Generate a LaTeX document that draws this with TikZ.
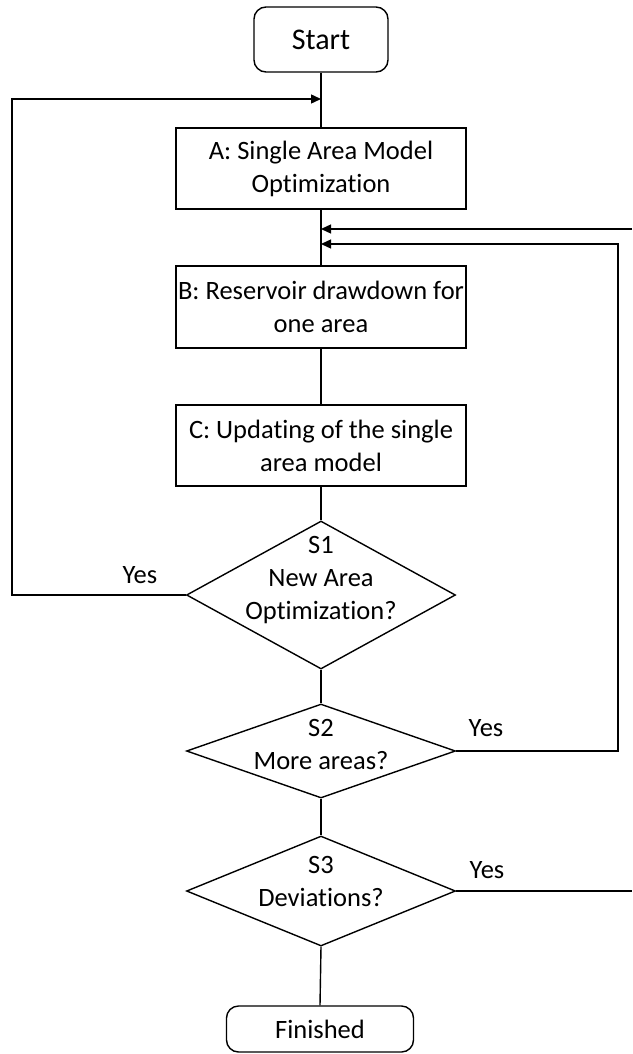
\documentclass[tikz,border=0pt]{standalone}
\usepackage{fontspec}
\setmainfont{Carlito}[Ligatures={NoCommon}]
\usetikzlibrary{shapes.geometric,arrows.meta}
\begin{document}
\begin{tikzpicture}[x=1pt,y=-1pt,
  line width=1.4pt,
  every node/.style={font=\fontsize{26.5}{33}\selectfont},
  terminal/.style={draw, rounded corners=12pt, minimum height=#1, inner sep=0pt},
  procbox/.style={draw, minimum width=290pt, minimum height=81pt, inner sep=0pt, align=center},
  decision/.style={draw, diamond, inner sep=0pt, minimum width=269pt, minimum height=#1},
  txt/.style={align=center, inner sep=0pt},
  tip/.style={-{Triangle[length=10pt,width=9pt]}}
]
\useasboundingbox (0,0) rectangle (632,1054);

% terminals
\node[terminal=65pt, minimum width=134pt, font=\fontsize{30}{36}\selectfont] (start) at (321,39.5) {Start};
\node[terminal=46pt, minimum width=187pt] (finish) at (320,1029) {Finished};

% process steps
\node[procbox] (A) at (321,168.5) {A: Single Area Model\\Optimization};
\node[procbox, minimum height=82pt] (B) at (321,307) {B: Reservoir drawdown for\\one area};
\node[procbox] (C) at (321,445.5) {C: Updating of the single\\area model};

% decisions
\node[decision=148pt] (S1) at (321,595) {};
\node[decision=94pt] (S2) at (321,751) {};
\node[decision=110pt] (S3) at (321,891) {};
\node[txt] (t1) at (321,580) {S1\\New Area\\Optimization?};
\node[txt] (t2) at (321,744) {S2\\More areas?};
\node[txt] (t3) at (321,881) {S3\\Deviations?};

% branch labels
\node[inner sep=0pt] (y1) at (140,575) {Yes};
\node[inner sep=0pt] (y2) at (486,728) {Yes};
\node[inner sep=0pt] (y3) at (487,870) {Yes};

% junctions on the main flow and free ends at the border
\coordinate (jA) at (321,99);
\coordinate (jB1) at (321,229);
\coordinate (jB2) at (321,244);
\coordinate (inR) at (632,229);
\coordinate (outR) at (632,891);
\coordinate (loopL) at (12,595);
\coordinate (loopR) at (618,751);

% main flow
\draw (start.south) -- (A.north);
\draw (A.south) -- (B.north);
\draw (B.south) -- (C.north);
\draw (C.south) -- (S1.north);
\draw (S1.south) -- (S2.north);
\draw (S2.south) -- (S3.north);
\draw (S3.south) -- (finish.north);

% feedback loops
\draw[tip] (S1.west) -- (loopL) |- (jA);
\draw[tip] (S2.east) -- (loopR) |- (jB2);
\draw[tip] (inR) -- (jB1);
\draw (S3.east) -- (outR);
\end{tikzpicture}
\end{document}
